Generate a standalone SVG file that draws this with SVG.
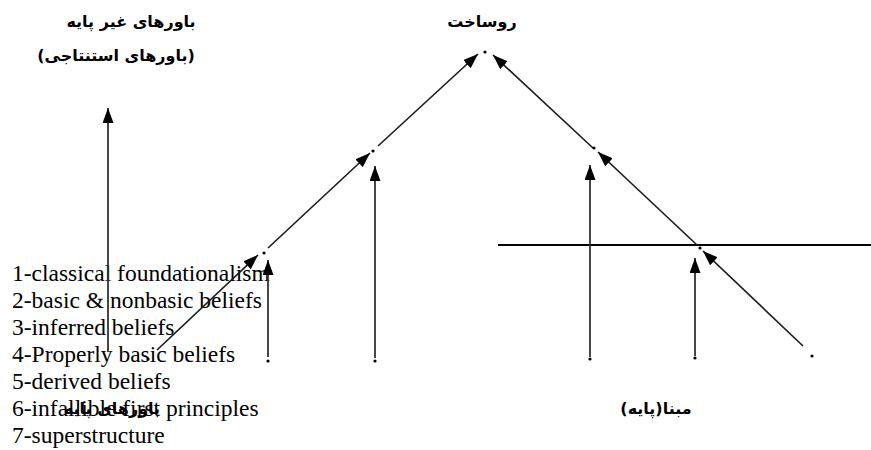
<svg xmlns="http://www.w3.org/2000/svg" width="871" height="450" viewBox="0 0 871 450">
<style>
.fa{font-family:"DejaVu Sans","Noto Sans",sans-serif;font-size:16px;fill:#000;font-weight:bold;text-anchor:middle;direction:rtl;unicode-bidi:embed}
.en{font-family:"Liberation Serif","Times New Roman",serif;font-size:23.5px;fill:#000}
.ln{stroke:#1a1a1a;stroke-width:1.6;fill:none;marker-end:url(#ah)}
.vl{stroke:#333;stroke-width:1.8;fill:none;marker-end:url(#ah)}
.dot{fill:#000}
</style>
<defs>
<marker id="ah" markerUnits="userSpaceOnUse" markerWidth="16" markerHeight="12" refX="15" refY="5.5" orient="auto">
<path d="M0,0 L15,5.5 L0,11 z" fill="#000"/>
</marker>
</defs>
<rect width="871" height="450" fill="#fff"/>
<g id="labels">
<g id="label-nonbasic">
<text class="fa" x="131" y="27" direction="rtl">باورهای غیر پایه</text>
<text class="fa" x="116" y="61" direction="rtl">(باورهای استنتاجی)</text>
</g>
<g id="label-super">
<text class="fa" x="482" y="27" direction="rtl">روساخت</text>
</g>
<g id="label-base">
<text class="fa" x="656" y="414" direction="rtl">مبنا(پایه)</text>
</g>
<g id="label-basic">
<text class="fa" x="112" y="414" direction="rtl">باورهای پایه</text>
</g>
</g>
<g id="list">
<text class="en" x="12" y="281">1-classical foundationalism</text>
<text class="en" x="12" y="308">2-basic &amp; nonbasic beliefs</text>
<text class="en" x="12" y="335">3-inferred beliefs</text>
<text class="en" x="12" y="362">4-Properly basic beliefs</text>
<text class="en" x="12" y="389">5-derived beliefs</text>
<text class="en" x="12" y="416">6-infallible first principles</text>
<text class="en" x="12" y="443">7-superstructure</text>
</g>
<g id="connectors">
<line x1="498" y1="245" x2="871" y2="245" stroke="#000" stroke-width="2"/>
<line class="vl" x1="108" y1="352" x2="108" y2="108"/>
<line class="ln" x1="157" y1="350" x2="258" y2="255"/>
<line class="vl" x1="268" y1="357" x2="268" y2="260"/>
<line class="ln" x1="268" y1="248" x2="370" y2="153"/>
<line class="vl" x1="375" y1="358" x2="375" y2="166"/>
<line class="ln" x1="378" y1="146" x2="478" y2="54"/>
<line class="ln" x1="593" y1="148" x2="493" y2="55"/>
<line class="vl" x1="590" y1="357" x2="590" y2="165"/>
<line class="ln" x1="697" y1="245" x2="598" y2="152"/>
<line class="vl" x1="695" y1="356" x2="695" y2="258"/>
<line class="ln" x1="803" y1="346" x2="703" y2="251"/>
</g>
<g id="nodes">
<circle class="dot" cx="485" cy="52" r="1.6"/>
<circle class="dot" cx="373" cy="151" r="1.6"/>
<circle class="dot" cx="264" cy="253" r="1.6"/>
<circle class="dot" cx="594" cy="148" r="1.6"/>
<circle class="dot" cx="700" cy="248" r="1.6"/>
<circle class="dot" cx="268" cy="361" r="1.6"/>
<circle class="dot" cx="375" cy="361" r="1.6"/>
<circle class="dot" cx="590" cy="359" r="1.6"/>
<circle class="dot" cx="695" cy="358" r="1.6"/>
<circle class="dot" cx="812" cy="356" r="1.6"/>
<circle class="dot" cx="148" cy="359" r="1.6"/>
</g>
</svg>
